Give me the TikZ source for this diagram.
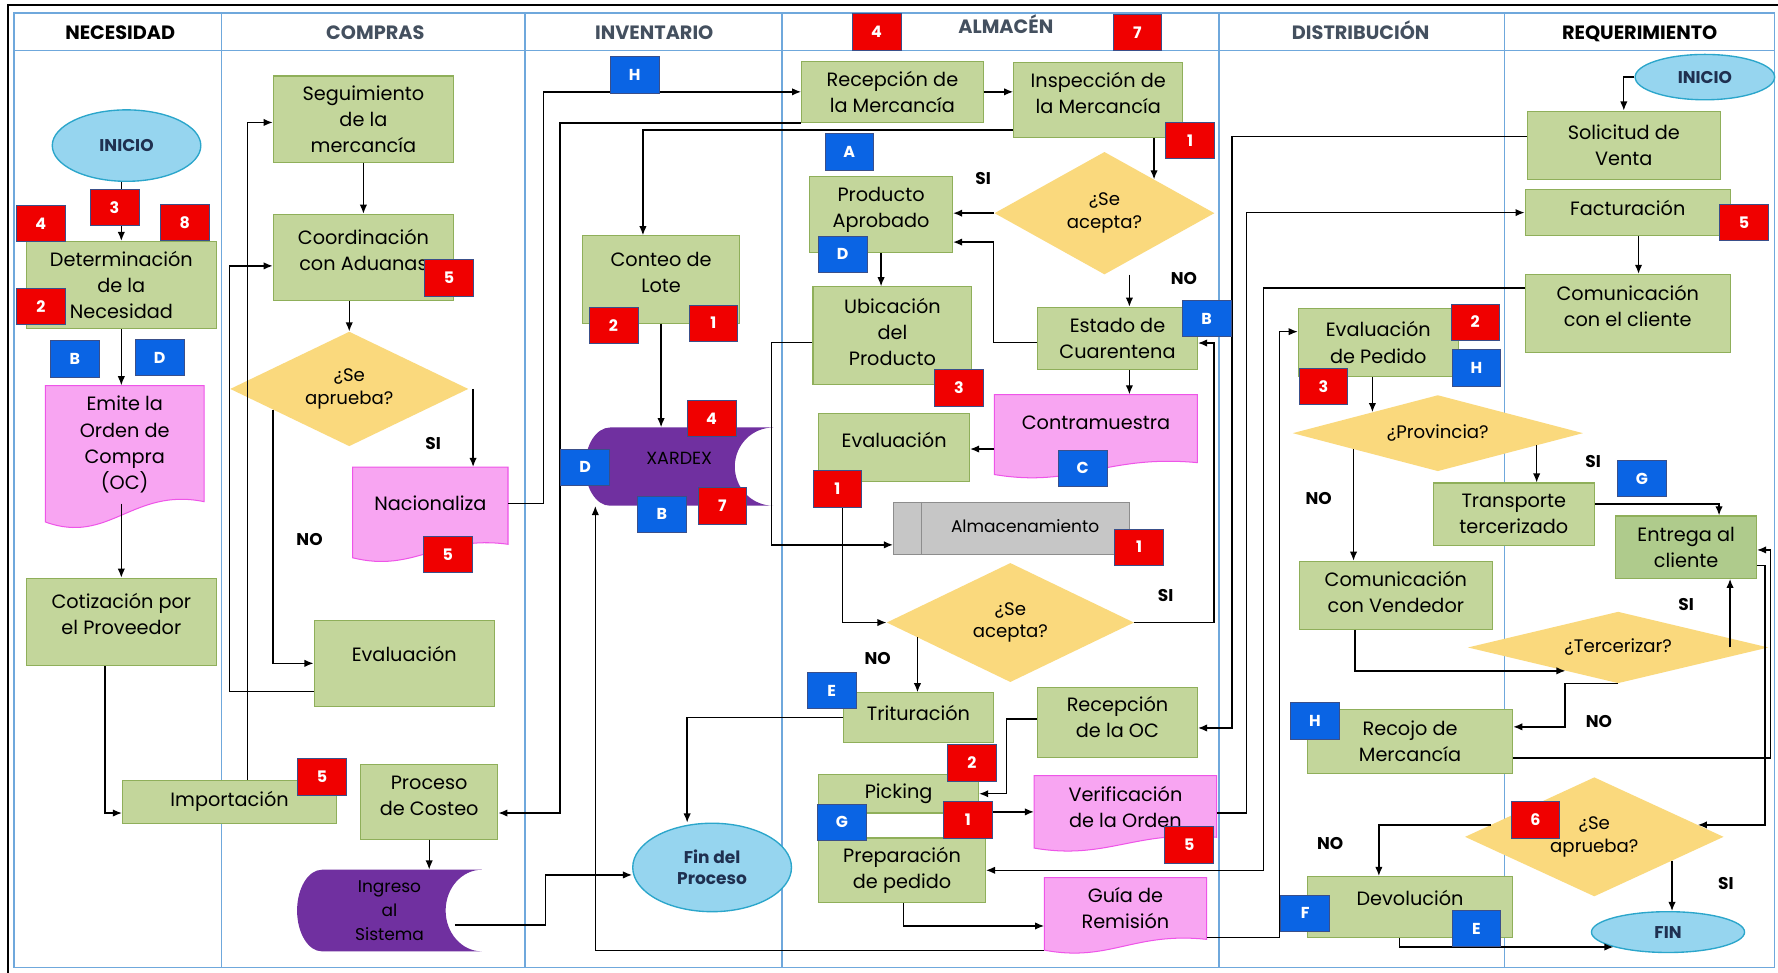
\documentclass[tikz,border=0pt]{standalone}
\usepackage{fontspec}
\setmainfont{Poppins}
\usetikzlibrary{arrows.meta,shapes.geometric,calc}

\definecolor{gfill}{HTML}{C3D69B}
\definecolor{gdark}{HTML}{AFCB8C}
\definecolor{gborder}{HTML}{8FAF5A}
\definecolor{pfill}{HTML}{F8A5F2}
\definecolor{pborder}{HTML}{EE55E8}
\definecolor{dfill}{HTML}{FAD97D}
\definecolor{efill}{HTML}{96D5EF}
\definecolor{eborder}{HTML}{2BA6CB}
\definecolor{enavy}{HTML}{1F3050}
\definecolor{sdfill}{HTML}{7030A0}
\definecolor{ppfill}{HTML}{C6C6C6}
\definecolor{ppborder}{HTML}{8D8D8D}
\definecolor{bred}{HTML}{F00000}
\definecolor{bblue}{HTML}{0A64E4}
\definecolor{bedge}{HTML}{3A4F8A}
\definecolor{lane}{HTML}{6FA8DC}
\definecolor{hdrgray}{HTML}{44505F}

\newcommand\txtfont{\fontsize{17}{23}\selectfont}
\newcommand\dtxtfont{\fontsize{16}{20}\selectfont}

% document shape with a wavy bottom edge
\newcommand\docshape[4]{%
  \path[docst] (#1,#2) -- (#3,#2) -- (#3,{#4-0.2*(#4-#2)})
    .. controls ({#3-0.45*(#3-#1)},{#4-0.3*(#4-#2)}) and ({#1+0.4*(#3-#1)},{#4+0.1*(#4-#2)})
    .. (#1,{#4-0.06*(#4-#2)}) -- cycle;}

% stored data shape: rounded left side, concave right side
\newcommand\sdshape[7]{%
  \fill[sdfill] ({#1+#5},#2) -- (#3,#2)
    arc[start angle=90,end angle=270,x radius=#6pt,y radius=#7pt]
    -- ({#1+#5},#4)
    arc[start angle=270,end angle=90,x radius=#5pt,y radius=#7pt] -- cycle;}

\begin{document}
\begin{tikzpicture}[x=1pt,y=-1pt,
  sz/.style 2 args={minimum width=#1pt,minimum height=#2pt},
  up/.style={text depth=#1pt},
  lanes/.style={draw=lane,line width=1.3pt},
  hdr/.style={font=\bfseries\fontsize{17}{17}\selectfont,inner sep=0pt,anchor=base},
  gbox/.style={draw=gborder,fill=gfill,line width=1pt,align=center,inner sep=1pt,font=\txtfont},
  docst/.style={fill=pfill,draw=pborder,line width=0.9pt},
  dtxt/.style={align=center,inner sep=0pt,font=\txtfont},
  sdlabel/.style={align=center,inner sep=0pt,text=black},
  ell/.style={ellipse,fill=efill,draw=eborder,line width=1.2pt,inner sep=0pt,align=center,
    text=enavy,font=\bfseries\fontsize{15}{19}\selectfont},
  dia/.style={diamond,fill=dfill,inner sep=0pt},
  dtext/.style={align=center,inner sep=0pt,font=\dtxtfont},
  pp/.style={rectangle,fill=ppfill,draw=ppborder,line width=1pt},
  badge/.style={rectangle,draw=bedge,line width=0.6pt,minimum width=43pt,minimum height=32pt,
    inner sep=0pt,text=white,font=\bfseries\fontsize{14}{14}\selectfont},
  rb/.style={badge,fill=bred},
  bb/.style={badge,fill=bblue},
  lbl/.style={font=\bfseries\fontsize{15}{15}\selectfont,inner sep=0pt},
  arr/.style={line width=1.2pt,-{Latex[length=8pt,width=6.5pt]}}
]
\useasboundingbox (0,0) rectangle (1568,858);
\fill[white] (0,0) rectangle (1568,858);

% ---------- swimlane frame ----------
\draw[line width=2pt] (7,858) -- (7,4.5) -- (1568,4.5);
\draw[lanes] (12.5,11.5) rectangle (1565,853);
\draw[lanes] (12.5,44.7) -- (1565,44.7);
\foreach \x in {195.5,463,689.5,1075,1327} \draw[lanes] (\x,11.5) -- (\x,853);

\node[hdr] (hnec) at (106,34.5) {NECESIDAD};
\node[hdr,text=hdrgray] (hcom) at (331,34.5) {COMPRAS};
\node[hdr,text=hdrgray] (hinv) at (577,34.5) {INVENTARIO};
\node[hdr,text=hdrgray] (halm) at (887,29.5) {ALMACÉN};
\node[hdr,text=hdrgray] (hdis) at (1200,34.5) {DISTRIBUCIÓN};
\node[hdr] (hreq) at (1446,34.5) {REQUERIMIENTO};

% ---------- special shapes drawn first ----------
\docshape{40}{340}{180}{468}
\docshape{311}{412}{448}{497}
\docshape{877}{348}{1056}{423}
\docshape{912}{684}{1073}{752}
\docshape{921}{774}{1064}{842}
\sdshape{262}{767}{425}{839}{22}{32}{36}
\sdshape{516}{377}{682}{446}{22}{34}{34.5}

% ---------- NECESIDAD ----------
\node[ell,sz={131}{63}] (ini1) at (111.6,128.4) {INICIO};
\node[gbox,sz={168}{77}] (det) at (107,251.5) {Determinación\\de la\\Necesidad};
\node[dtxt,sz={140}{104}] (emite) at (110,392) {Emite la\\Orden de\\Compra\\(OC)};
\node[gbox,sz={168}{77},up=14] (cot) at (107,548.5) {Cotización por\\el Proveedor};
\node[gbox,sz={189}{38}] (imp) at (202.5,707) {Importación};

% ---------- COMPRAS ----------
\node[gbox,sz={159}{76}] (seg) at (320.5,105) {Seguimiento\\de la\\mercancía};
\node[gbox,sz={159}{76},up=14] (coo) at (320.5,227) {Coordinación\\con Aduanas};
\node[dia,sz={210}{101}] (d1) at (308,343) {};
\node[dtext] (d1t) at (d1) {¿Se\\aprueba?};
\node[dtxt,sz={137}{64}] (nac) at (379.5,444) {Nacionaliza};
\node[gbox,sz={159}{76},up=16] (evc) at (356.5,585) {Evaluación};
\node[gbox,sz={121}{66},up=10] (cos) at (378.5,707) {Proceso\\de Costeo};
\node[sdlabel,sz={163}{72},font=\fontsize{15}{21}\selectfont] (ing) at (343.5,803) {Ingreso\\al\\Sistema};

% ---------- INVENTARIO ----------
\node[gbox,sz={138}{77},up=12] (con) at (583,246.5) {Conteo de\\Lote};
\node[sdlabel,sz={166}{69},font=\fontsize{15.5}{15.5}\selectfont,up=14] (xar) at (599,411.5) {XARDEX};
\node[ell,sz={140}{78}] (fin1) at (628,765) {Fin del\\Proceso};

% ---------- ALMACÉN ----------
\node[gbox,sz={160}{54}] (recm) at (787,81) {Recepción de\\la Mercancía};
\node[gbox,sz={149}{66},up=12] (ins) at (968.5,88) {Inspección de\\la Mercancía};
\node[gbox,sz={126}{67},up=14] (pa) at (777,189.5) {Producto\\Aprobado};
\node[dia,sz={194}{108}] (d2) at (974,188) {};
\node[dtext] (d2t) at (d2) {¿Se\\acepta?};
\node[gbox,sz={140}{86},up=7] (ubi) at (787,296) {Ubicación\\del\\Producto};
\node[gbox,sz={141}{55}] (est) at (985.5,298.5) {Estado de\\Cuarentena};
\node[dtxt,sz={179}{50}] (cm) at (966.5,373) {Contramuestra};
\node[gbox,sz={133}{60},up=14] (eva) at (788.5,395) {Evaluación};
\node[pp,sz={208}{46}] (alm) at (892,466) {};
\draw[ppborder,line width=1pt] ([xshift=25pt]alm.north west) -- ([xshift=25pt]alm.south west);
\node[inner sep=0pt,font=\fontsize{15}{15}\selectfont] (almt) at (904,464) {Almacenamiento};
\node[dia,sz={218}{105}] (d3) at (891,549) {};
\node[dtext] (d3t) at (d3) {¿Se\\acepta?};
\node[gbox,sz={132}{44},up=9] (tri) at (810,633) {Trituración};
\node[gbox,sz={141}{62},up=10] (roc) at (985.5,637) {Recepción\\de la OC};
\node[gbox,sz={141}{34}] (pic) at (792.5,700) {Picking};
\node[dtxt,sz={161}{56}] (ver) at (992.5,712) {Verificación\\de la Orden};
\node[gbox,sz={147}{57}] (prep) at (795.5,767.5) {Preparación\\de pedido};
\node[dtxt,sz={143}{54}] (guia) at (992.5,801) {Guía de\\Remisión};

% ---------- DISTRIBUCIÓN / REQUERIMIENTO ----------
\node[ell,sz={123}{40}] (ini2) at (1503.5,68) {INICIO};
\node[gbox,sz={170}{60}] (sol) at (1432,128) {Solicitud de\\Venta};
\node[gbox,sz={181}{41},up=8] (fac) at (1435.5,187.5) {Facturación};
\node[gbox,sz={181}{69},up=13] (cc) at (1435.5,276.5) {Comunicación\\con el cliente};
\node[gbox,sz={141}{60}] (evp) at (1215.5,302) {Evaluación\\de Pedido};
\node[dia,sz={256}{67}] (d4) at (1268,382) {};
\node[dtext] (d4t) at (d4) {¿Provincia?};
\node[gbox,sz={142}{55}] (tt) at (1335,453.5) {Transporte\\tercerizado};
\node[gbox,sz={124}{55},fill=gdark] (ent) at (1487,482.5) {Entrega al\\cliente};
\node[gbox,sz={170}{60},up=6] (cv) at (1231,525) {Comunicación\\con Vendedor};
\node[dia,sz={265}{63}] (d5) at (1427,571) {};
\node[dtext] (d5t) at (d5) {¿Tercerizar?};
\node[gbox,sz={181}{56}] (rec) at (1243.5,654) {Recojo de\\Mercancía};
\node[dia,sz={228}{105}] (d6) at (1406,738) {};
\node[dtext] (d6t) at (d6) {¿Se\\aprueba?};
\node[gbox,sz={181}{54},up=16] (dev) at (1243.5,800) {Devolución};
\node[ell,sz={135}{36}] (fin2) at (1471,822) {FIN};

% ---------- points on diamond edges ----------
\coordinate (d1sw) at ($(d1.west)!0.36!(d1.south)$);
\coordinate (d2ne) at ($(d2.north)!0.45!(d2.east)$);
\coordinate (d3sw) at ($(d3.west)!0.25!(d3.south)$);
\coordinate (d4nw) at ($(d4.north)!0.45!(d4.west)$);
\coordinate (d4sw) at ($(d4.west)!0.42!(d4.south)$);
\coordinate (d4se) at ($(d4.east)!0.32!(d4.south)$);
\coordinate (d5sw) at ($(d5.west)!0.65!(d5.south)$);
\coordinate (d6ne) at ($(d6.east)!0.2!(d6.north)$);
\coordinate (d6nw) at ($(d6.west)!0.2!(d6.north)$);
\coordinate (d6se) at ($(d6.south)!0.6!(d6.east)$);

% ---------- connectors ----------
\draw[arr] (ini1.south -| det.north) -- (det.north);
\draw[arr] (det.south) -- (det.south |- emite.north);
\draw[arr] (emite.south -| cot.north) -- (cot.north);
\draw[arr] ([xshift=-14.5pt]cot.south) |- ([yshift=-10pt]imp.west);
\draw[arr] ([xshift=15.5pt]imp.north) |- ([yshift=-3pt]seg.west);
\draw[arr] ([yshift=-25pt]evc.west) -- ++(-74,0) |- ([yshift=-7.5pt]coo.west);
\draw[arr] (seg.south) -- (coo.north);
\draw[arr] (coo.south -| d1.north) -- (d1.north);
\draw[arr] (d1sw) |- (evc.west);
\draw[arr] ([xshift=4pt]d1.east) -- ([xshift=4pt]d1.east |- nac.north);
\draw[arr] (nac.east) -- ++(31,0) |- (recm.west);
\draw[arr] (recm.east) -- (recm.east -| ins.west);
\draw[arr] (recm.south west) -- ++(-212.5,0) |- ([yshift=-10pt]cos.east);
\draw[arr] ([yshift=-26.5pt]ins.west) -| ([xshift=-16pt]con.north);
\draw[arr] (con.south) -- (con.south |- xar.north);
\draw[arr] ([yshift=-6pt]ubi.west) -- ++(-36,0) |- ([yshift=-14.5pt]alm.west);
\draw[arr] (ins.south -| d2ne) -- (d2ne);
\draw[arr] (d2.west) -- (d2.west -| pa.east);
\draw[arr] ([xshift=22pt]d2.south) -- ([xshift=22pt]d2.south |- est.north);
\draw[arr] (pa.south) -- (pa.south |- ubi.north);
\draw[arr] ([yshift=-3.5pt]est.west) -- ++(-38.5,0) |- ([yshift=-24pt]pa.east);
\draw[arr] ([xshift=10.5pt]est.south) -- ([xshift=10.5pt]est.south |- cm.north);
\draw[arr] ([yshift=-23pt]cm.west) -- ([yshift=-23pt]cm.west -| eva.east);
\draw[arr] ([xshift=21.5pt]eva.south west) |- (d3.west);
\draw[arr] (d3sw) -- (d3sw |- tri.north);
\draw[arr] (d3.east) -- ++(70.5,0) |- ([yshift=-4pt]est.east);
\draw[arr] (tri.west) -| ([xshift=-22pt]fin1.north);
\draw[arr] ([yshift=3pt]roc.west) -- ++(-27,0) |- (pic.east);
\draw[arr] ([yshift=-16pt]pic.east) -- ([yshift=-16pt]pic.east -| ver.west);
\draw[arr] ([xshift=1.5pt]prep.south) |- ([yshift=-15.6pt]guia.west);
\draw[arr] ([yshift=-37pt]guia.west) -| ([xshift=-74pt]xar.south);
\draw[arr] ([yshift=-25.5pt]guia.east) -- ++(64,0) |- ([yshift=9.5pt]evp.west);
\draw[arr] ([yshift=-5pt]ver.east) -- ++(26,0) |- (fac.west);
\draw[arr] ([yshift=7.5pt]sol.west) -- ++(-260,0) |- ([yshift=-5pt]roc.east);
\draw[arr] ([yshift=22.5pt]cc.west) -- ++(-230,0) |- (prep.east);
\draw[arr] ([xshift=9.5pt]fac.south) -- ([xshift=9.5pt]fac.south |- cc.north);
\draw[arr] (ini2.west) -| (sol.north);
\draw[arr] (evp.south -| d4nw) -- (d4nw);
\draw[arr] (d4sw) -- (d4sw |- cv.north);
\draw[arr] (d4se) -- (d4se |- tt.north);
\draw[arr] ([yshift=9pt]tt.east) -| ([xshift=29pt]ent.north);
\draw[arr] ([xshift=-36pt]cv.south) |- (d5sw);
\draw[arr] ([xshift=-34pt]d5.east) -- ([xshift=-34pt]d5.east |- ent.south);
\draw[arr] (d5.south) -- ++(-47,0) |- ([yshift=13pt]rec.east);
\draw[arr] ([yshift=-14.5pt]rec.east) -- ++(227,0) |- ([yshift=-2.5pt]ent.east);
\draw[arr] ([yshift=-16pt]ent.east) -- ++(7,0) |- (d6ne);
\draw[arr] (d6nw) -| ([xshift=-27.5pt]dev.north);
\draw[arr] (d6se) -- (d6se |- fin2.north);
\draw[arr] ([xshift=-9.5pt]dev.south) |- (fin2.south west);
\draw[arr] (cos.south) -- (cos.south |- ing.north);
\draw[arr] ([xshift=-24pt,yshift=-12.7pt]ing.east) -- ++(79.6,0) |- ([yshift=-6.6pt]fin1.west);

% ---------- branch labels ----------
\node[lbl] (s1) at (382,391) {SI};
\node[lbl] (n1) at (273,476) {NO};
\node[lbl] (s2) at (867,157) {SI};
\node[lbl] (n2) at (1044,246) {NO};
\node[lbl] (s3) at (1028,525) {SI};
\node[lbl] (n3) at (774,581) {NO};
\node[lbl] (n4) at (1163,440) {NO};
\node[lbl] (s4) at (1405,407) {SI};
\node[lbl] (s5) at (1487,533) {SI};
\node[lbl] (n5) at (1410,636) {NO};
\node[lbl] (n6) at (1173,744) {NO};
\node[lbl] (s6) at (1522,779) {SI};

% ---------- red badges ----------
\node[rb] (r01) at (773,28) {4};
\node[rb] (r02) at (1003,28.5) {7};
\node[rb] (r03) at (36,197) {4};
\node[rb] (r04) at (101,183) {3};
\node[rb] (r05) at (163,196) {8};
\node[rb] (r06) at (36,270) {2};
\node[rb] (r07) at (396,245) {5};
\node[rb] (r08) at (395,489) {5};
\node[rb] (r09) at (284,685) {5};
\node[rb] (r10) at (541,287) {2};
\node[rb] (r11) at (629,285) {1};
\node[rb] (r12) at (627.5,369) {4};
\node[rb] (r13) at (637,446) {7};
\node[rb] (r14) at (845.6,342) {3};
\node[rb] (r15) at (1049.5,124) {1};
\node[rb] (r16) at (738.4,431) {1};
\node[rb] (r17) at (1004.6,482.4) {1};
\node[rb] (r18) at (857,672.8) {2};
\node[rb] (r19) at (853.6,723) {1};
\node[rb] (r20) at (1048.7,745) {5};
\node[rb] (r21) at (1538,196) {5};
\node[rb] (r22) at (1301,284) {2};
\node[rb] (r23) at (1167,341) {3};
\node[rb] (r24) at (1354,723) {6};

% ---------- blue badges ----------
\node[bb] (u01) at (66,316.5) {B};
\node[bb] (u02) at (140.7,315.4) {D};
\node[bb] (u03) at (559.6,66) {H};
\node[bb] (u04) at (749,134) {A};
\node[bb] (u05) at (743,224) {D};
\node[bb] (u06) at (516,412) {D};
\node[bb] (u07) at (583.6,453.5) {B};
\node[bb] (u08) at (1064,281) {B};
\node[bb] (u09) at (954.8,413) {C};
\node[bb] (u10) at (733.5,609) {E};
\node[bb] (u11) at (742.5,725) {G};
\node[bb] (u12) at (1302,324.5) {H};
\node[bb] (u13) at (1448,422) {G};
\node[bb] (u14) at (1159.5,635.6) {H};
\node[bb] (u15) at (1151,805.5) {F};
\node[bb] (u16) at (1302,819) {E};
\end{tikzpicture}
\end{document}
